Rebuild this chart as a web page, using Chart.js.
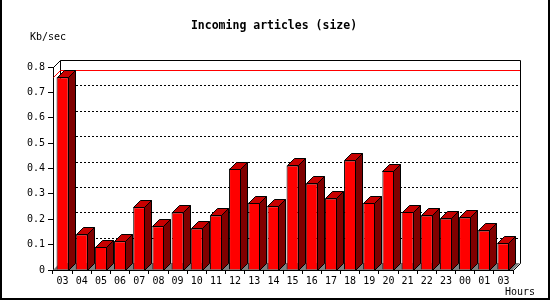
<!DOCTYPE html>
<html>
<head>
<meta charset="utf-8">
<script src="https://cdn.jsdelivr.net/npm/chart.js@4.4.0/dist/chart.umd.min.js"></script>
<style>
  html, body { margin: 0; padding: 0; background: #fff; }
  canvas { display: block; }
</style>
</head>
<body>
<canvas id="articlesChart" width="550" height="300"></canvas>
<script>
// hours shown along the bottom, oldest first
const hours = ['03', '04', '05', '06', '07', '08', '09', '10', '11', '12', '13', '14',
               '15', '16', '17', '18', '19', '20', '21', '22', '23', '00', '01', '03'];
// incoming article size, Kb/sec
const kbPerSec = [0.76, 0.14, 0.092, 0.113, 0.247, 0.172, 0.227, 0.164, 0.215, 0.40, 0.266, 0.251,
                  0.412, 0.341, 0.282, 0.432, 0.265, 0.392, 0.230, 0.215, 0.203, 0.207, 0.156, 0.105];
const yTicks = [0, 0.1, 0.2, 0.3, 0.4, 0.5, 0.6, 0.7, 0.8];

const DEPTH = 7;

Chart.defaults.font.family = '"DejaVu Sans Mono", monospace';
Chart.defaults.font.size = 10;
Chart.defaults.color = '#000';

const box3d = {
    id: 'box3d',
    beforeDraw(chart) {
        const ctx = chart.ctx;
        ctx.save();
        ctx.fillStyle = '#fff';
        ctx.fillRect(0, 0, chart.width, chart.height);
        ctx.restore();
    },
    beforeDatasetsDraw(chart) {
        const ctx = chart.ctx;
        const a = chart.chartArea;
        const y = chart.scales.y;
        ctx.save();
        ctx.lineWidth = 1;

        // floor
        ctx.fillStyle = '#808080';
        ctx.beginPath();
        ctx.moveTo(a.left, a.bottom);
        ctx.lineTo(a.right, a.bottom);
        ctx.lineTo(a.right + DEPTH, a.bottom - DEPTH);
        ctx.lineTo(a.left + DEPTH, a.bottom - DEPTH);
        ctx.closePath();
        ctx.fill();

        // dotted grid on the back wall
        ctx.strokeStyle = '#000';
        ctx.setLineDash([2, 2]);
        yTicks.slice(1, -1).forEach(v => {
            const py = Math.round(y.getPixelForValue(v) - DEPTH) + 0.5;
            ctx.beginPath();
            ctx.moveTo(a.left + DEPTH, py);
            ctx.lineTo(a.right + DEPTH, py);
            ctx.stroke();
        });
        ctx.setLineDash([]);

        // back wall frame
        const l = a.left + 0.5, r = a.right + DEPTH + 0.5;
        const t = a.top - DEPTH + 0.5, b = a.bottom - DEPTH + 0.5;
        ctx.beginPath();
        ctx.moveTo(a.left + 0.5, a.top + 0.5);
        ctx.lineTo(l + DEPTH, t);
        ctx.lineTo(r, t);
        ctx.lineTo(r, b);
        ctx.lineTo(a.right + 0.5, a.bottom + 0.5);
        ctx.moveTo(l + DEPTH, t);
        ctx.lineTo(l + DEPTH, b);
        ctx.stroke();

        // max line
        const maxY = Math.round(y.getPixelForValue(Math.max(...kbPerSec))) + 0.5;
        ctx.strokeStyle = '#f00';
        ctx.beginPath();
        ctx.moveTo(a.left + 0.5, maxY);
        ctx.lineTo(a.left + DEPTH + 0.5, maxY - DEPTH);
        ctx.lineTo(a.right + DEPTH, maxY - DEPTH);
        ctx.stroke();

        // front floor edge
        ctx.strokeStyle = '#000';
        ctx.beginPath();
        ctx.moveTo(a.left, a.bottom + 0.5);
        ctx.lineTo(a.right, a.bottom + 0.5);
        ctx.stroke();
        ctx.restore();
    },
    afterDatasetsDraw(chart) {
        const ctx = chart.ctx;
        const meta = chart.getDatasetMeta(0);
        ctx.save();
        ctx.lineWidth = 1;
        ctx.strokeStyle = '#000';
        meta.data.forEach(bar => {
            const xl = Math.round(bar.x - bar.width / 2) + 0.5;
            const xr = Math.round(bar.x + bar.width / 2) - 0.5;
            const yt = Math.round(bar.y) + 0.5;
            const yb = Math.round(bar.base) + 0.5;
            // top face
            ctx.fillStyle = '#c80000';
            ctx.beginPath();
            ctx.moveTo(xl, yt);
            ctx.lineTo(xl + DEPTH, yt - DEPTH);
            ctx.lineTo(xr + DEPTH, yt - DEPTH);
            ctx.lineTo(xr, yt);
            ctx.closePath();
            ctx.fill();
            ctx.stroke();
            // side face
            ctx.fillStyle = '#800000';
            ctx.beginPath();
            ctx.moveTo(xr, yt);
            ctx.lineTo(xr + DEPTH, yt - DEPTH);
            ctx.lineTo(xr + DEPTH, yb - DEPTH);
            ctx.lineTo(xr, yb);
            ctx.closePath();
            ctx.fill();
            ctx.stroke();
        });
        ctx.restore();
    },
    afterDraw(chart) {
        const ctx = chart.ctx;
        ctx.save();
        ctx.fillStyle = '#000';
        ctx.textBaseline = 'middle';
        ctx.font = 'bold 11.5px "DejaVu Sans Mono", monospace';
        ctx.textAlign = 'center';
        ctx.fillText('Incoming articles (size)', 274, 26);
        ctx.font = '10px "DejaVu Sans Mono", monospace';
        ctx.textAlign = 'left';
        ctx.fillText('Kb/sec', 30, 37);
        ctx.fillText('Hours', 505, 292);
        // frame
        ctx.strokeStyle = '#000';
        ctx.lineWidth = 2;
        ctx.beginPath();
        ctx.moveTo(1, 0);
        ctx.lineTo(1, 299);
        ctx.lineTo(549, 299);
        ctx.lineTo(549, 0);
        ctx.stroke();
        ctx.restore();
    }
};

new Chart(document.getElementById('articlesChart'), {
    type: 'bar',
    data: {
        labels: hours,
        datasets: [{
            data: kbPerSec,
            backgroundColor: '#ff0000',
            borderColor: '#000',
            borderWidth: 1,
            barPercentage: 0.63,
            categoryPercentage: 1.0
        }]
    },
    options: {
        responsive: false,
        animation: false,
        layout: { padding: { left: 0, top: 67, right: 37, bottom: 0 } },
        plugins: {
            legend: { display: false },
            tooltip: { enabled: false },
            title: { display: false }
        },
        scales: {
            x: {
                offset: true,
                afterFit(scale) { scale.height = 30; },
                border: { display: true, color: '#000' },
                grid: { drawOnChartArea: false, color: '#000', tickLength: 4, offset: true },
                ticks: { padding: 1, maxRotation: 0, autoSkip: false, color: '#000' }
            },
            y: {
                min: 0,
                max: 0.8,
                afterFit(scale) { scale.width = 53; },
                afterBuildTicks(scale) { scale.ticks = yTicks.map(v => ({ value: v })); },
                border: { display: true, color: '#000' },
                grid: { drawOnChartArea: false, color: '#000', tickLength: 5 },
                ticks: { padding: 3, color: '#000' }
            }
        }
    },
    plugins: [box3d]
});
</script>
</body>
</html>
